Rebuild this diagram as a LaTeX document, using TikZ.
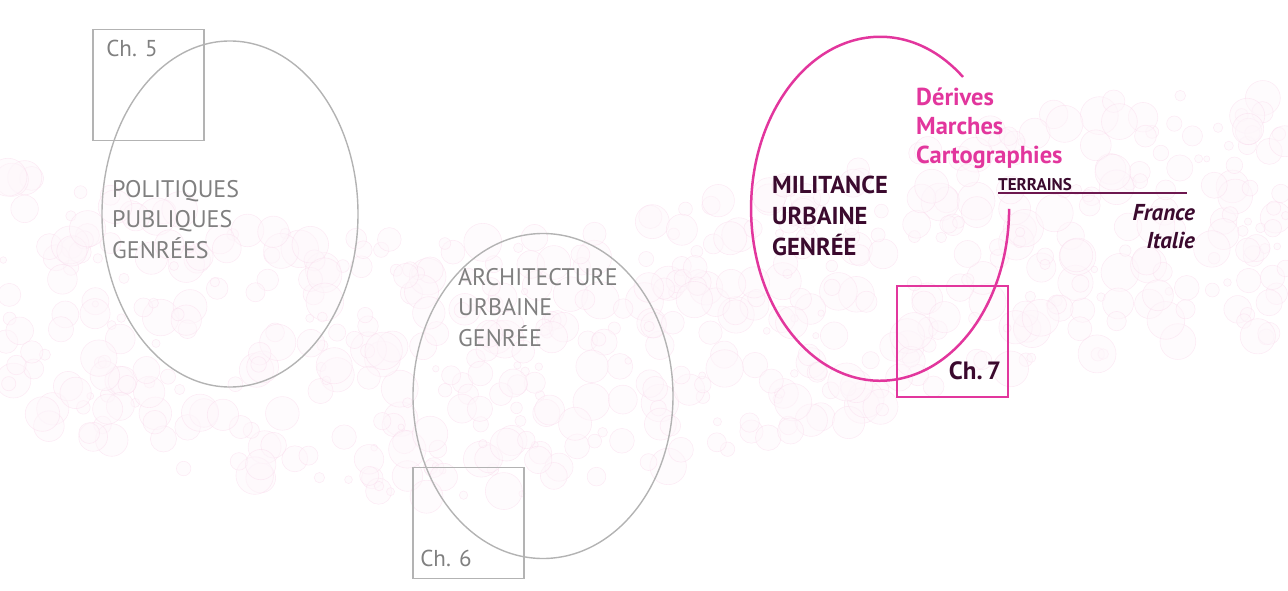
\documentclass[tikz,border=0pt]{standalone}
\usepackage{fontspec}
\setmainfont{PT Sans}
\usepackage{tikz}
\usetikzlibrary{shapes.geometric,positioning}

\definecolor{greytext}{HTML}{808080}
\definecolor{greyline}{HTML}{B3B3B3}
\definecolor{rose}{HTML}{E2369D}
\definecolor{plum}{HTML}{3B0A2E}

\begin{document}
\begin{tikzpicture}[
x=1pt,y=-1pt,
bubble/.style={
draw=rose!18,
fill=rose!4,
line width=0.6pt,
opacity=0.5
},
field/.style={
ellipse,
draw=greyline,
line width=1.4pt,
inner sep=0pt
},
chapter/.style={
rectangle,
draw=greyline,
line width=1.8pt,
minimum size=111pt,
inner sep=0pt
},
chlabel/.style={
font=\fontsize{23}{27}\selectfont,
text=greytext,
inner sep=0pt,
anchor=base west
},
theme/.style={
font=\fontsize{24}{30.5}\selectfont,
text=greytext,
align=left,
inner sep=0pt,
anchor=north west
}
]

\useasboundingbox (0,0) rectangle (1288,591);

% bubbly background
\pgfmathsetseed{42}
\foreach \i in {1,...,600}{
\pgfmathsetmacro{\bx}{1288*rnd}
\pgfmathsetmacro{\by}{290+80*sin(0.21*\bx)+260*(rnd-0.5)}
\pgfmathsetmacro{\br}{3+16*rnd}
\draw[bubble] (\bx,\by) circle[radius=\br pt];
}

% chapter 5
\node[field, minimum width=256pt, minimum height=346pt] (pol) at (230,214) {};
\node[chapter] (box5) at (148.5,85) {};
\node[chlabel] (ch5) at ([shift={(14,28)}]box5.north west) {Ch. 5};
\node[theme] (poltxt) at (112,180) {POLITIQUES\\PUBLIQUES\\GENRÉES};

% chapter 6
\node[field, minimum width=260pt, minimum height=325pt] (archi) at (543,396) {};
\node[chapter] (box6) at (468.5,523) {};
\node[chlabel] (ch6) at ([shift={(8,-13)}]box6.south west) {Ch. 6};
\node[theme] (architxt) at (458,268) {ARCHITECTURE\\URBAINE\\GENRÉE};

% chapter 7
\draw[rose, line width=2.5pt] (963,77)
arc[start angle=-50, end angle=-360, x radius=129, y radius=172] coordinate (milend);
\node[chapter, draw=rose, line width=2.5pt] (box7) at (952.5,341.5) {};
\node[chlabel, text=plum, font=\fontsize{25}{29}\selectfont\bfseries, anchor=base east] (ch7) at ([shift={(-8,-19)}]box7.south east) {Ch.\,7};
\node[theme, text=plum, font=\fontsize{24.5}{31}\selectfont\bfseries] (miltxt) at (772,176) {MILITANCE\\URBAINE\\GENRÉE};
\node[theme, text=rose, font=\fontsize{24.5}{29}\selectfont\bfseries] (methods) at (916,88) {Dérives\\Marches\\Cartographies};
\node[theme, text=plum, font=\fontsize{17}{19}\selectfont\bfseries, anchor=base west] (terr) at (998,190) {TERRAINS};
\coordinate (terrend) at (1187,193);
\draw[plum!70!rose, line width=1.4pt] (terr.base west |- terrend) -- (terrend);
\node[theme, text=plum, font=\fontsize{23}{28}\selectfont\bfseries\itshape, align=right, anchor=north east] (places) at (1195,204) {France\\Italie};

\end{tikzpicture}
\end{document}
